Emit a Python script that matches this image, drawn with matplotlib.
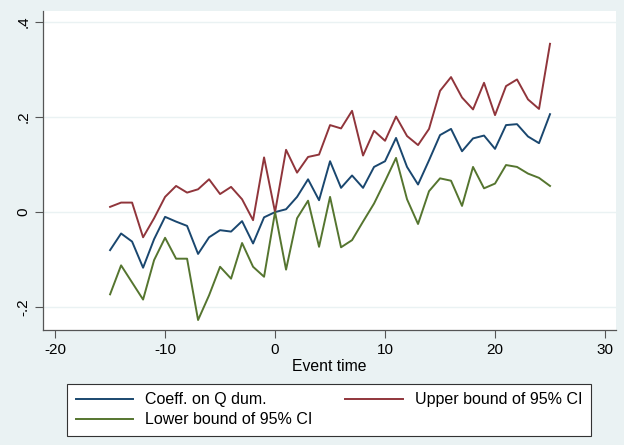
import matplotlib
matplotlib.use("Agg")
import matplotlib.pyplot as plt

# event time and estimates
event_time = list(range(-15, 26))
coef = [-0.080, -0.045, -0.062, -0.117, -0.057, -0.010, -0.020, -0.029, -0.088, -0.053,
        -0.038, -0.041, -0.019, -0.066, -0.011, 0.000, 0.006, 0.032, 0.069, 0.025,
        0.107, 0.051, 0.077, 0.051, 0.095, 0.107, 0.156, 0.095, 0.058, 0.109,
        0.162, 0.175, 0.128, 0.155, 0.161, 0.133, 0.183, 0.185, 0.159, 0.145, 0.206]
upper = [0.011, 0.020, 0.020, -0.053, -0.013, 0.032, 0.055, 0.041, 0.048, 0.069,
         0.038, 0.053, 0.027, -0.017, 0.115, 0.000, 0.131, 0.083, 0.116, 0.121,
         0.183, 0.176, 0.213, 0.119, 0.171, 0.150, 0.201, 0.160, 0.141, 0.175,
         0.255, 0.284, 0.241, 0.216, 0.272, 0.204, 0.265, 0.279, 0.237, 0.217, 0.354]
lower = [-0.173, -0.112, -0.148, -0.184, -0.101, -0.054, -0.098, -0.098, -0.227, -0.175,
         -0.115, -0.140, -0.065, -0.115, -0.136, 0.000, -0.121, -0.013, 0.024, -0.073,
         0.032, -0.074, -0.059, -0.020, 0.018, 0.065, 0.114, 0.027, -0.025, 0.044,
         0.071, 0.066, 0.013, 0.095, 0.050, 0.060, 0.099, 0.095, 0.081, 0.072, 0.055]

x_ticks = [-20, -10, 0, 10, 20, 30]
y_ticks = [-0.2, 0, 0.2, 0.4]
y_tick_labels = ["-.2", "0", ".2", ".4"]

BG = "#eaf2f3"
NAVY = "#1a476f"
MAROON = "#90353b"
GREEN = "#55752f"

plt.rcParams["font.family"] = ["Liberation Sans", "DejaVu Sans"]
plt.rcParams["axes.unicode_minus"] = False

fig = plt.figure(figsize=(6.24, 4.45), dpi=100, facecolor=BG)
ax = fig.add_axes([43 / 624, 1 - 330 / 445, (616 - 43) / 624, (330 - 11) / 445])
ax.set_facecolor("white")

for yt in y_ticks:
    ax.axhline(yt, color="#eaf2f3", lw=1.0, zorder=0)

l1, = ax.plot(event_time, coef, color=NAVY, lw=1.4, label="Coeff. on Q dum.")
l2, = ax.plot(event_time, upper, color=MAROON, lw=1.4, label="Upper bound of 95% CI")
l3, = ax.plot(event_time, lower, color=GREEN, lw=1.4, label="Lower bound of 95% CI")

ax.set_xlim(-21.1, 31.0)
ax.set_ylim(-0.248, 0.423)
ax.set_xticks(x_ticks)
ax.set_yticks(y_ticks)
ax.set_yticklabels(y_tick_labels, rotation=90, va="center")
ax.tick_params(direction="out", length=6, width=0.8, color="#555555",
               labelsize=11, pad=3)
ax.set_xlabel("Event time", fontsize=11.3, labelpad=2)

for side in ["top", "right"]:
    ax.spines[side].set_visible(False)
for side in ["left", "bottom"]:
    ax.spines[side].set_color("#555555")
    ax.spines[side].set_linewidth(0.9)

leg = fig.legend([l1, l3, l2], [l1.get_label(), l3.get_label(), l2.get_label()],
                 ncol=2, loc="lower left", mode="expand",
                 bbox_to_anchor=(67 / 624, 1 - 436 / 445, (591 - 67) / 624, (436 - 383) / 445),
                 borderaxespad=0, fancybox=False, framealpha=1, edgecolor="#333333",
                 fontsize=11.5, handlelength=3.6, handletextpad=0.75, labelspacing=0.3,
                 borderpad=0.55)
leg.get_frame().set_linewidth(0.8)

fig.savefig("out.png", dpi=100, facecolor=BG)
